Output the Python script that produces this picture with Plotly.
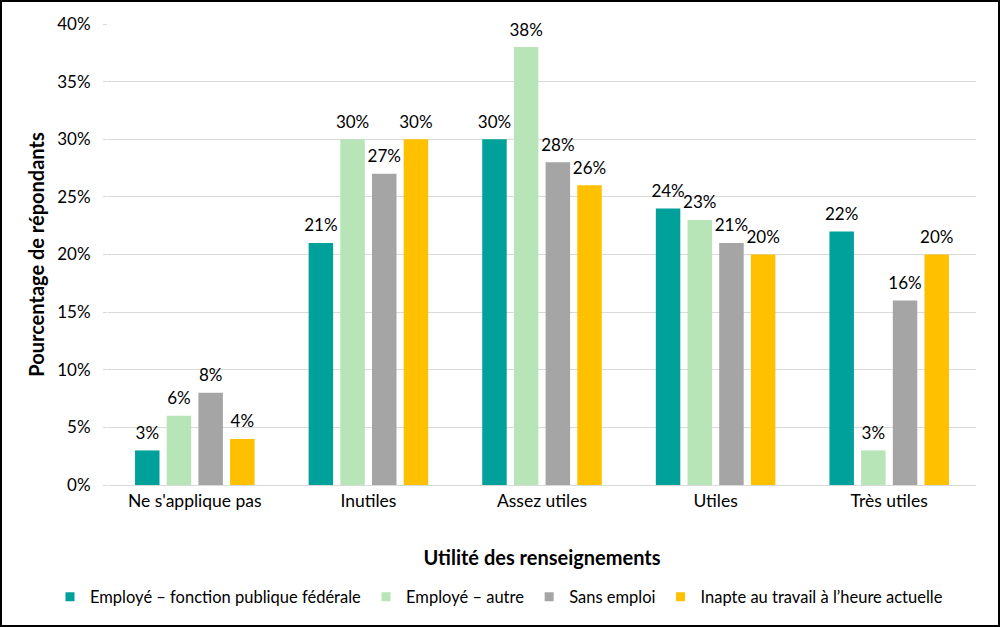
import plotly.graph_objects as go

categories = ["Ne s'applique pas", "Inutiles", "Assez utiles", "Utiles", "Très utiles"]
series_names = ["Employé – fonction publique fédérale", "Employé – autre", "Sans emploi",
                "Inapte au travail à l’heure actuelle"]
federal = [3, 21, 30, 24, 22]
autre = [6, 30, 38, 23, 3]
sans_emploi = [8, 27, 28, 21, 16]
inapte = [4, 30, 26, 20, 20]
colors = ["#00A19A", "#B8E5B8", "#A5A5A5", "#FFC000"]
y_ticks = [0, 5, 10, 15, 20, 25, 30, 35, 40]

FONT = "Lato, sans-serif"
W, H = 1000, 627
ml, mr, mt, mb = 108, 24, 24, 142
GAP = 0.27

fig = go.Figure()
all_vals = [federal, autre, sans_emploi, inapte]
for i, (name, vals, col) in enumerate(zip(series_names, all_vals, colors)):
    fig.add_trace(go.Bar(
        x=categories, y=vals, name=name, marker_color=col, marker_line_width=0,
        showlegend=False, hoverinfo="skip", offsetgroup=str(i),
    ))
for i, (name, vals) in enumerate(zip(series_names, all_vals)):
    fig.add_trace(go.Scatter(
        x=categories, y=vals, mode="markers+text", name=name + " labels",
        text=[f"{v}%" for v in vals], textposition="top center", cliponaxis=False,
        marker=dict(size=10, opacity=0), showlegend=False,
        textfont=dict(size=17, color="#000000", family=FONT),
        offsetgroup=str(i),
    ))
for name, col in zip(series_names, colors):
    fig.add_trace(go.Scatter(
        x=[None], y=[None], mode="markers", name=name,
        marker=dict(symbol="square", size=9, color=col), showlegend=True,
    ))

pw = W - ml - mr
ph = H - mt - mb
fig.add_shape(type="rect", xref="paper", yref="paper",
              x0=(1 - ml) / pw, x1=(W - 1 - ml) / pw,
              y0=-(H - 1 - mt - ph) / ph, y1=(mt - 1) / ph + 1,
              line=dict(color="#000000", width=2), fillcolor="rgba(0,0,0,0)", layer="above")

fig.update_layout(
    width=W, height=H,
    margin=dict(l=ml, r=mr, t=mt, b=mb, autoexpand=False),
    paper_bgcolor="white", plot_bgcolor="white",
    barmode="group", bargap=GAP, bargroupgap=0.227,
    scattermode="group", scattergap=GAP,
    font=dict(family=FONT, size=17, color="#000000"),
    xaxis=dict(title=dict(text="<b>Utilité des renseignements</b>", font=dict(size=20), standoff=40),
               tickfont=dict(size=17.5), showline=True, linecolor="#D9D9D9", linewidth=1,
               ticks="", showgrid=False),
    yaxis=dict(title=dict(text="<b>Pourcentage de répondants</b>", font=dict(size=20), standoff=7),
               range=[0, 40], tickvals=y_ticks, ticktext=[f"{t}%" for t in y_ticks],
               tickfont=dict(size=17), showgrid=True, gridcolor="#D9D9D9", gridwidth=1,
               zeroline=False, ticks="outside", ticklen=4, tickcolor="#D9D9D9",
               ticklabelstandoff=9),
    legend=dict(orientation="h", x=(50 - ml) / pw, xanchor="left", y=-0.243, yanchor="middle",
                font=dict(size=16.5), traceorder="normal", itemwidth=30, tracegroupgap=0,
                bgcolor="rgba(0,0,0,0)"),
    showlegend=True,
)

fig.write_html("out.html", config={"displayModeBar": False},
               post_script="document.body.style.margin='0';document.body.style.padding='0';")
